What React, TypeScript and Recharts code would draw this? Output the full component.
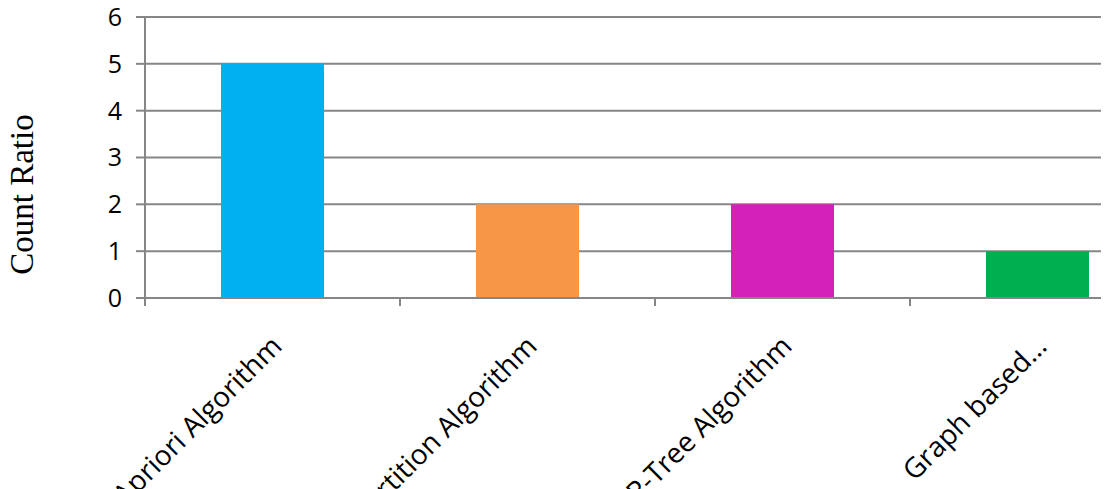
import React from "react";
import { BarChart, Bar, XAxis, YAxis, CartesianGrid, Cell } from "recharts";

const categories = ["Apriori Algorithm", "Partition Algorithm", "FP-Tree Algorithm", "Graph based…"];
const counts = [5, 2, 2, 1];
const colors = ["#00B0F0", "#F79646", "#D421BA", "#00AF50"];
const yTicks = [0, 1, 2, 3, 4, 5, 6];
const yTitle = "Count Ratio";

const data = categories.map((name, i) => ({ name, value: counts[i] }));

const AXIS = "#868686";

const XTick = (props: any) => {
  const { x, y, payload, width, visibleTicksCount } = props;
  const half =
    payload && typeof payload.offset === "number" && payload.offset > 0
      ? payload.offset
      : width / (visibleTicksCount || 4) / 2;
  const axisY = y - 10;
  const tx = x + 11;
  const ty = axisY + 50;
  return (
    <g>
      <line x1={x - half} y1={axisY} x2={x - half} y2={axisY + 8} stroke={AXIS} strokeWidth={2} />
      <text
        x={tx}
        y={ty}
        transform={`rotate(-45, ${tx}, ${ty})`}
        textAnchor="end"
        fontFamily="'Open Sans', sans-serif"
        fontSize={28}
        fill="#000"
      >
        {payload.value}
      </text>
    </g>
  );
};

const YTitle = (props: any) => {
  const vb = props.viewBox || { x: 0, y: 0, width: 0, height: 0 };
  const tx = vb.x + 25;
  const ty = vb.y + vb.height / 2 + 37;
  return (
    <text
      x={tx}
      y={ty}
      transform={`rotate(-90, ${tx}, ${ty})`}
      textAnchor="middle"
      fontFamily="'Liberation Serif', 'Times New Roman', serif"
      fontSize={33}
      fill="#000"
    >
      {yTitle}
    </text>
  );
};

export default function App() {
  return (
    <div style={{ position: "relative", width: 1170, height: 481 }}>
      <BarChart
        width={1170}
        height={481}
        data={data}
        margin={{ top: 9, right: 13, left: 0, bottom: 0 }}
        barSize={103}
      >
        <CartesianGrid vertical={false} stroke={AXIS} strokeWidth={2} />
        <XAxis
          dataKey="name"
          height={191}
          axisLine={{ stroke: AXIS, strokeWidth: 2 }}
          tickLine={false}
          tickSize={0}
          tickMargin={10}
          interval={0}
          tick={<XTick />}
        />
        <YAxis
          width={137}
          domain={[0, 6]}
          ticks={yTicks}
          interval={0}
          axisLine={{ stroke: AXIS, strokeWidth: 2 }}
          tickLine={{ stroke: AXIS, strokeWidth: 2 }}
          tickSize={9}
          tickMargin={14}
          tick={{ fill: "#000", fontSize: 25, fontFamily: "'Open Sans', sans-serif" }}
          label={<YTitle />}
        />
        <Bar dataKey="value" isAnimationActive={false}>
          {data.map((d, i) => (
            <Cell key={d.name} fill={colors[i]} />
          ))}
        </Bar>
      </BarChart>
    </div>
  );
}
